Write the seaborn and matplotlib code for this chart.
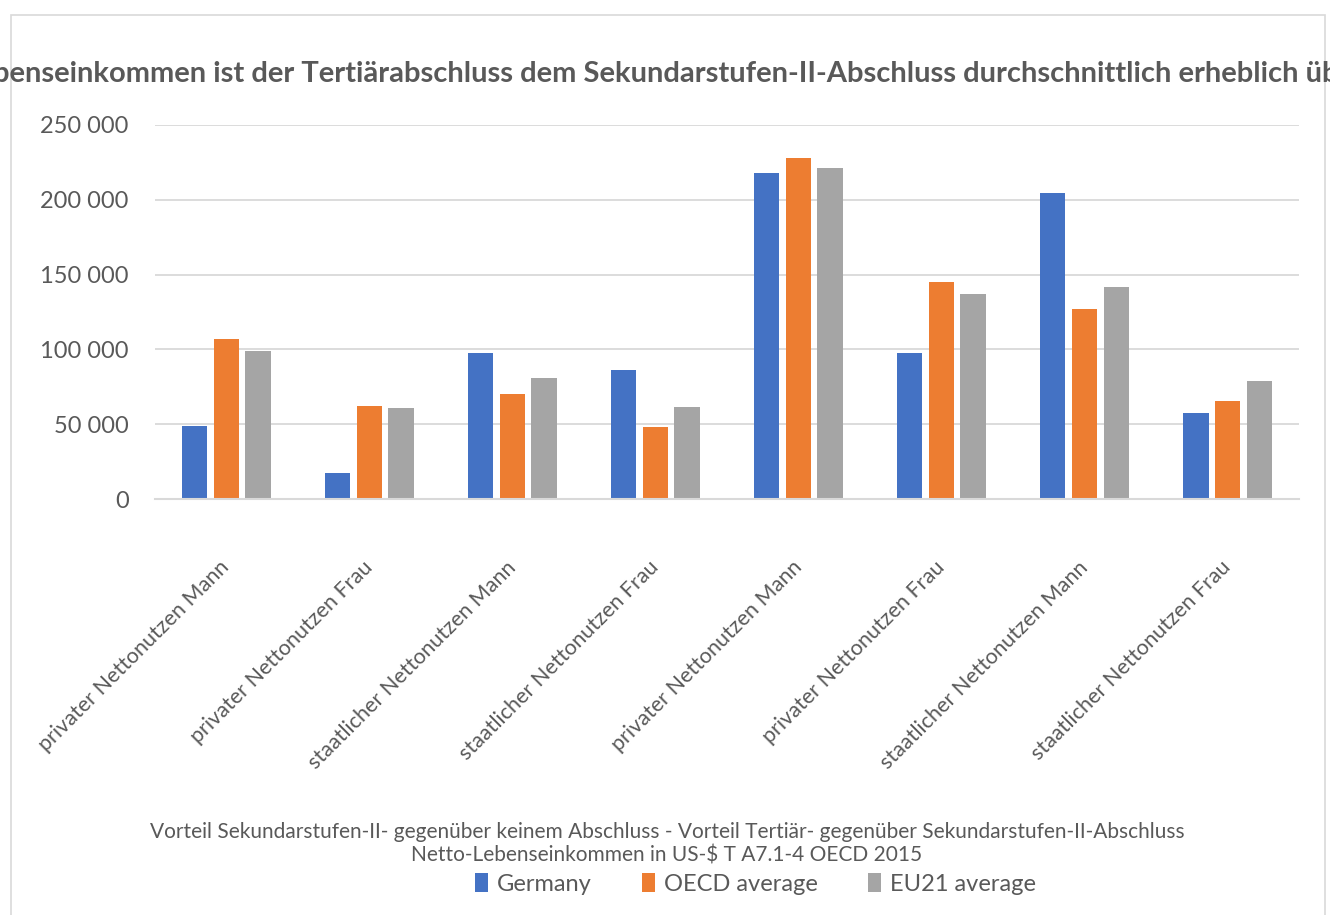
import pandas as pd
import matplotlib
matplotlib.use("Agg")
import matplotlib.pyplot as plt
import matplotlib.patches as mpatches
import seaborn as sns

# Daten
kategorien = [
    "privater Nettonutzen Mann", "privater Nettonutzen Frau",
    "staatlicher Nettonutzen Mann", "staatlicher Nettonutzen Frau",
    "privater Nettonutzen Mann", "privater Nettonutzen Frau",
    "staatlicher Nettonutzen Mann", "staatlicher Nettonutzen Frau",
]
serien = ["Germany", "OECD average", "EU21 average"]
germany = [48800, 17400, 97600, 86200, 217900, 97600, 204500, 57500]
oecd = [106900, 62200, 70200, 48100, 227900, 145000, 127000, 65500]
eu21 = [98900, 60800, 80900, 61500, 221300, 137000, 141700, 78900]
y_ticks = [0, 50000, 100000, 150000, 200000, 250000]

titel = ("benseinkommen ist der Tertiärabschluss dem Sekundarstufen-II-Abschluss "
         "durchschnittlich erheblich überlegen")
x_titel = ("Vorteil Sekundarstufen-II- gegenüber keinem Abschluss - Vorteil Tertiär- "
           "gegenüber Sekundarstufen-II-Abschluss\nNetto-Lebenseinkommen in US-$ T A7.1-4 OECD 2015")

farben = ["#4472C4", "#ED7D31", "#A5A5A5"]
grau = "#595959"

rows = []
for name, werte in zip(serien, [germany, oecd, eu21]):
    for i, w in enumerate(werte):
        rows.append({"pos": i, "serie": name, "wert": w})
df = pd.DataFrame(rows)

sns.set_theme(style="white")
plt.rcParams["font.family"] = ["Lato", "DejaVu Sans"]

fig = plt.figure(figsize=(13.3, 9.15), dpi=100)
ax = fig.add_axes([0.1165, 0.4546, 0.8602, 0.4088])

sns.barplot(data=df, x="pos", y="wert", hue="serie", hue_order=serien,
            palette=farben, width=0.67, gap=0.19, saturation=1,
            edgecolor="none", ax=ax)

ax.set_ylim(0, 250000)
ax.set_xlim(-0.5, len(kategorien) - 0.5)
ax.set_yticks(y_ticks)
ax.set_yticklabels([f"{v:,}".replace(",", " ") for v in y_ticks],
                   fontsize=17, color=grau)
ax.set_xticks(range(len(kategorien)))
ax.set_xticklabels(kategorien, rotation=45, ha="right", va="center",
                   rotation_mode="anchor", fontsize=15.5, color=grau)
ax.tick_params(axis="x", length=0, pad=47)
ax.tick_params(axis="y", length=0, pad=19)
ax.yaxis.grid(True, color="#d9d9d9", linewidth=1.3)
ax.set_axisbelow(True)
for s in ["top", "right", "left"]:
    ax.spines[s].set_visible(False)
ax.spines["bottom"].set_color("#d9d9d9")
ax.spines["bottom"].set_linewidth(1.5)
ax.set_xlabel("")
ax.set_ylabel("")

# Legende unten
handles, labels = ax.get_legend_handles_labels()
ax.get_legend().remove()
fig.legend(handles, labels, loc="center", bbox_to_anchor=(0.568, 0.034),
           ncol=3, frameon=False, fontsize=17, labelcolor=grau,
           handlelength=0.55, handleheight=0.85, handletextpad=0.4,
           columnspacing=2.1)

# Achsentitel
fig.text(0.5015, 0.078, x_titel, ha="center", va="center", fontsize=15,
         color=grau, linespacing=1.25)

# Diagrammtitel (links abgeschnitten wie im Original)
fig.text(-0.005, 0.919, titel, ha="left", va="center", fontsize=21,
         fontweight="bold", color=grau)

# Rahmen
fig.patches.append(mpatches.Rectangle((0.0083, -0.02), 0.9879, 1.0036,
                                      transform=fig.transFigure, fill=False,
                                      edgecolor="#d9d9d9", linewidth=1.2))

fig.savefig("out.png", dpi=100)
